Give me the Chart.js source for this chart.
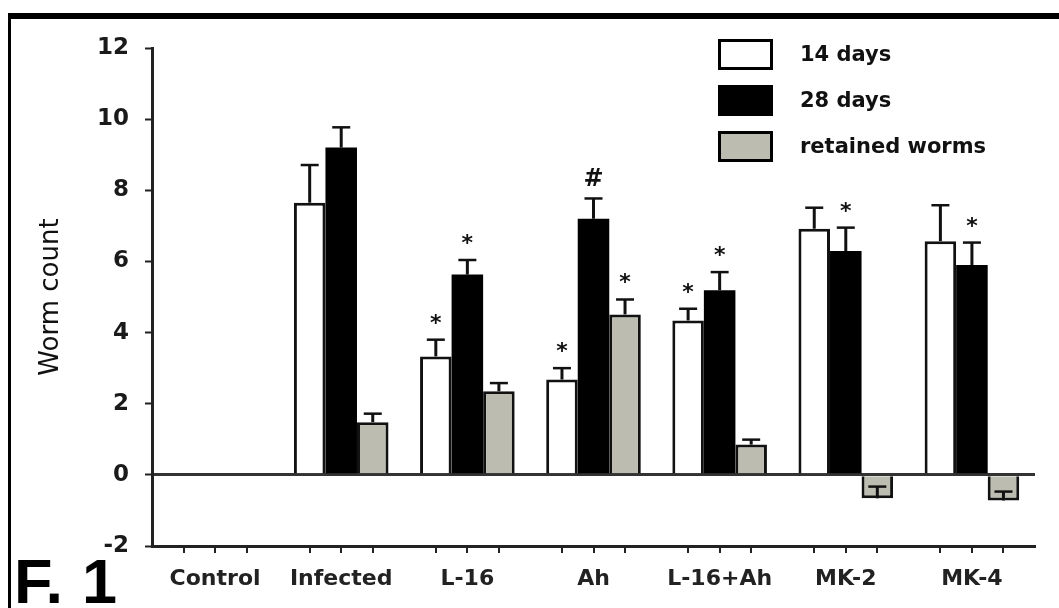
<!DOCTYPE html>
<html>
<head>
<meta charset="utf-8">
<title>Worm count</title>
<script src="https://cdn.jsdelivr.net/npm/chart.js@4/dist/chart.umd.min.js"></script>
<style>
    body { margin: 0; background: #fff; }
    #wrap { width: 1059px; height: 608px; }
</style>
</head>
<body>
<div id="wrap"><canvas id="wormChart" width="1059" height="608"></canvas></div>
<script>
// Группы на оси X
const categories = ['Control', 'Infected', 'L-16', 'Ah', 'L-16+Ah', 'MK-2', 'MK-4'];

// Значения столбцов (Control без данных)
const days14 = [null, 7.65, 3.33, 2.68, 4.34, 6.92, 6.57];
const days28 = [null, 9.20, 5.63, 7.20, 5.19, 6.29, 5.90];
const retainedWorms = [null, 1.48, 2.35, 4.51, 0.85, -0.66, -0.72];

// Концы планок погрешности
const days14Err = [null, 8.71, 3.80, 3.00, 4.67, 7.51, 7.58];
const days28Err = [null, 9.77, 6.04, 7.77, 5.70, 6.95, 6.53];
const retainedErr = [null, 1.72, 2.58, 4.93, 0.99, -0.33, -0.47];

// Отметки значимости над столбцами
const days14Marks = ['', '', '*', '*', '*', '', ''];
const days28Marks = ['', '', '*', '#', '*', '*', '*'];
const retainedMarks = ['', '', '', '*', '', '', ''];

// Деления оси Y
const yTicks = [-2, 0, 2, 4, 6, 8, 10, 12];

const errEnds = [days14Err, days28Err, retainedErr];
const marks = [days14Marks, days28Marks, retainedMarks];

// Рамка, легенда, погрешности, звёздочки и подпись рисунка
const figureDecor = {
    id: 'figureDecor',
    afterDatasetsDraw(chart) {
        const ctx = chart.ctx;
        const yScale = chart.scales.y;
        const xScale = chart.scales.x;

        ctx.save();

        // Планки погрешности и отметки
        chart.data.datasets.forEach(function(ds, i) {
            const meta = chart.getDatasetMeta(i);
            meta.data.forEach(function(bar, j) {
                const end = errEnds[i][j];
                if (end === null || ds.data[j] === null) return;
                const x = bar.x;
                const y0 = yScale.getPixelForValue(ds.data[j]);
                const y1 = yScale.getPixelForValue(end);
                ctx.strokeStyle = '#111';
                ctx.lineWidth = 3;
                ctx.beginPath();
                ctx.moveTo(x, y0);
                ctx.lineTo(x, y1);
                ctx.stroke();
                ctx.lineWidth = 2.5;
                ctx.beginPath();
                ctx.moveTo(x - 9, y1);
                ctx.lineTo(x + 9, y1);
                ctx.stroke();

                const m = marks[i][j];
                if (m) {
                    ctx.fillStyle = '#111';
                    ctx.font = m === '#' ? 'bold 24px "DejaVu Sans"' : 'bold 22px "DejaVu Sans"';
                    ctx.textAlign = 'center';
                    ctx.textBaseline = 'alphabetic';
                    const tm = ctx.measureText(m);
                    const cy = y1 - 21;
                    ctx.fillText(m, x, cy + (tm.actualBoundingBoxAscent - tm.actualBoundingBoxDescent) / 2);
                }
            });
        });

        // Деления под осью X у каждого столбца
        ctx.strokeStyle = '#222';
        ctx.lineWidth = 2;
        chart.data.datasets.forEach(function(ds, i) {
            chart.getDatasetMeta(i).data.forEach(function(bar) {
                ctx.beginPath();
                ctx.moveTo(Math.round(bar.x), xScale.top);
                ctx.lineTo(Math.round(bar.x), xScale.top + 7);
                ctx.stroke();
            });
        });

        // Легенда
        const lx = 718, ly = 39, boxW = 55, boxH = 31, step = 46;
        chart.data.datasets.forEach(function(ds, i) {
            const top = ly + i * step;
            ctx.fillStyle = ds.backgroundColor;
            ctx.fillRect(lx, top, boxW, boxH);
            ctx.strokeStyle = '#000';
            ctx.lineWidth = 3;
            ctx.strokeRect(lx + 1.5, top + 1.5, boxW - 3, boxH - 3);
            ctx.fillStyle = '#111';
            ctx.font = 'bold 21px "DejaVu Sans"';
            ctx.textAlign = 'left';
            ctx.textBaseline = 'middle';
            ctx.fillText(ds.label, 800, top + boxH / 2 + 1);
        });

        // Рамка рисунка
        ctx.fillStyle = '#000';
        ctx.fillRect(8, 13, chart.width - 8, 6);
        ctx.fillRect(8, 13, 3, chart.height - 13);

        // Подпись рисунка
        ctx.fillStyle = '#000';
        ctx.font = 'bold 63px "Liberation Sans"';
        ctx.textAlign = 'left';
        ctx.textBaseline = 'alphabetic';
        ctx.fillText('F.', 14, 603);
        ctx.fillText('1', 82, 603);

        ctx.restore();
    }
};

const ctx = document.getElementById('wormChart').getContext('2d');

const wormChart = new Chart(ctx, {
    type: 'bar',
    data: {
        labels: categories,
        datasets: [
            {
                label: '14 days',
                data: days14,
                backgroundColor: '#ffffff',
                borderColor: '#111',
                borderWidth: 3
            },
            {
                label: '28 days',
                data: days28,
                backgroundColor: '#000000',
                borderColor: '#000',
                borderWidth: 0
            },
            {
                label: 'retained worms',
                data: retainedWorms,
                backgroundColor: '#bcbcb0',
                borderColor: '#111',
                borderWidth: 3
            }
        ]
    },
    options: {
        responsive: false,
        animation: false,
        layout: {
            padding: { top: 48, right: 24, left: 0, bottom: 0 }
        },
        datasets: {
            bar: {
                categoryPercentage: 0.75,
                barPercentage: 1.0
            }
        },
        plugins: {
            legend: { display: false },
            tooltip: { enabled: false }
        },
        scales: {
            x: {
                grid: { display: false, drawTicks: false },
                border: { display: true, color: '#222', width: 3 },
                ticks: {
                    color: '#222',
                    padding: 20,
                    font: { family: 'DejaVu Sans', size: 22, weight: 'bold' }
                },
                afterFit: function(scale) {
                    scale.height = 62;
                }
            },
            y: {
                min: -2,
                max: 12,
                afterBuildTicks: function(scale) {
                    scale.ticks = yTicks.map(v => ({ value: v }));
                },
                grid: {
                    drawOnChartArea: true,
                    color: function(c) {
                        return c.tick && c.tick.value === 0 ? '#333' : 'rgba(0,0,0,0)';
                    },
                    lineWidth: 3,
                    tickColor: '#222',
                    tickLength: 7,
                    tickWidth: 2
                },
                border: { display: true, color: '#222', width: 3 },
                ticks: {
                    color: '#1a1a1a',
                    padding: 16,
                    font: { family: 'DejaVu Sans', size: 23, weight: 'bold' }
                },
                title: {
                    display: true,
                    text: 'Worm count',
                    color: '#111',
                    padding: { top: 36, bottom: 0 },
                    font: { family: 'DejaVu Sans', size: 26 }
                },
                afterFit: function(scale) {
                    scale.width = 152;
                }
            }
        }
    },
    plugins: [figureDecor]
});
</script>
</body>
</html>
